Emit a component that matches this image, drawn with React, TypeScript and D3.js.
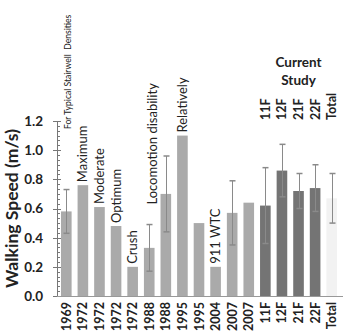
import React, { useEffect, useRef } from 'react';
import * as d3 from 'd3';

// walking speed studies, one bar each
const categories = ['1969', '1972', '1972', '1972', '1972', '1988', '1988', '1995', '1995', '2004', '2007', '2007', '11F', '12F', '21F', '22F', 'Total'];
const speeds = [0.58, 0.76, 0.61, 0.48, 0.20, 0.33, 0.70, 1.10, 0.50, 0.20, 0.57, 0.64, 0.62, 0.86, 0.72, 0.74, 0.67];
const errors = [0.15, 0, 0, 0, 0, 0.16, 0.26, 0, 0, 0, 0.22, 0, 0.26, 0.18, 0.12, 0.16, 0.17];
const groups = ['past', 'past', 'past', 'past', 'past', 'past', 'past', 'past', 'past', 'past', 'past', 'past', 'study', 'study', 'study', 'study', 'total'];
const notes = ['For Typical Stairwell  Densities', 'Maximum', 'Moderate', 'Optimum', 'Crush', 'Locomotion disability', '', 'Relatively', '', '911 WTC', '', '', '', '', '', '', ''];
const yTicks = [0, 0.2, 0.4, 0.6, 0.8, 1.0, 1.2];
const studyTitle = ['Current', 'Study'];

const App = () => {
  const svgRef = useRef(null);

  useEffect(() => {
    const width = 343;
    const height = 332;
    const margin = { top: 121, bottom: 36, left: 57 };
    const font = 'Lato, "Open Sans", sans-serif';

    const svg = d3.select(svgRef.current);
    svg.selectAll('*').remove();

    const idx = categories.map((_, i) => i);
    const x = d3.scaleBand()
      .domain(idx)
      .range([58, 340])
      .paddingInner(0.36)
      .paddingOuter(0.18);

    const y = d3.scaleLinear()
      .domain([0, 1.2])
      .range([height - margin.bottom, margin.top]);

    const colors = { past: '#aaaaaa', study: '#747474', total: '#f2f2f2' };

    // bars
    svg.append('g')
      .selectAll('rect')
      .data(idx)
      .enter()
      .append('rect')
      .attr('x', i => x(i))
      .attr('y', i => y(speeds[i]))
      .attr('width', x.bandwidth())
      .attr('height', i => y(0) - y(speeds[i]))
      .attr('fill', i => colors[groups[i]]);

    // error bars
    const withErr = idx.filter(i => errors[i] > 0);
    const eb = svg.append('g')
      .attr('stroke', '#8a8a8a')
      .attr('stroke-width', 1);
    withErr.forEach(i => {
      const cx = Math.round(x(i) + x.bandwidth() / 2) + 0.5;
      const lo = y(speeds[i] - errors[i]);
      const hi = y(speeds[i] + errors[i]);
      eb.append('line').attr('x1', cx).attr('x2', cx).attr('y1', lo).attr('y2', hi);
      eb.append('line').attr('x1', cx - 3).attr('x2', cx + 3).attr('y1', hi).attr('y2', hi).attr('stroke-width', 1.5);
      eb.append('line').attr('x1', cx - 3).attr('x2', cx + 3).attr('y1', lo).attr('y2', lo).attr('stroke-width', 1.5);
    });

    // y axis with minor ticks
    const axisG = svg.append('g').attr('stroke', '#777');
    axisG.append('line')
      .attr('x1', margin.left + 0.5).attr('x2', margin.left + 0.5)
      .attr('y1', y(1.2)).attr('y2', y(0));
    const minor = d3.range(0, 36).map(k => k * 0.2 / 6).filter(v => v <= 1.2);
    axisG.selectAll('.minor')
      .data(minor)
      .enter()
      .append('line')
      .attr('x1', margin.left).attr('x2', margin.left + 3)
      .attr('y1', v => Math.round(y(v)) + 0.5).attr('y2', v => Math.round(y(v)) + 0.5);
    axisG.selectAll('.major')
      .data(yTicks)
      .enter()
      .append('line')
      .attr('x1', margin.left - 4).attr('x2', margin.left + 4)
      .attr('y1', v => Math.round(y(v)) + 0.5).attr('y2', v => Math.round(y(v)) + 0.5);

    // x axis baseline
    svg.append('line')
      .attr('x1', margin.left).attr('x2', width)
      .attr('y1', Math.round(y(0)) + 0.5).attr('y2', Math.round(y(0)) + 0.5)
      .attr('stroke', '#999');

    svg.append('g')
      .selectAll('text')
      .data(yTicks)
      .enter()
      .append('text')
      .attr('x', 43)
      .attr('y', v => y(v))
      .attr('dy', '0.36em')
      .attr('text-anchor', 'end')
      .attr('font-family', font)
      .attr('font-weight', 'bold')
      .attr('font-size', 13.5)
      .attr('fill', '#222')
      .text(v => v.toFixed(1));

    svg.append('text')
      .attr('transform', `translate(18,${(y(0) + y(1.2)) / 2}) rotate(-90)`)
      .attr('text-anchor', 'middle')
      .attr('font-family', font)
      .attr('font-weight', 'bold')
      .attr('font-size', 17.5)
      .attr('fill', '#222')
      .text('Walking Speed (m/s)');

    // category labels under the axis
    svg.append('g')
      .selectAll('text')
      .data(idx)
      .enter()
      .append('text')
      .attr('transform', i => `translate(${x(i) + x.bandwidth() / 2 + 4.5},${y(0) + 6}) rotate(-90)`)
      .attr('text-anchor', 'end')
      .attr('font-family', font)
      .attr('font-weight', 'bold')
      .attr('font-size', 12.5)
      .attr('fill', '#222')
      .text(i => categories[i]);

    // notes over the bars
    const noteX = (i) => {
      if (i === 5) return x(i) + x.bandwidth() / 2 + 8;
      return x(i) + x.bandwidth() / 2 + 4.5;
    };
    const noteY = (i) => {
      if (i === 0) return y(1.2) + 8;
      if (i === 5) return y(speeds[i] + errors[i]) - 20;
      return y(speeds[i] + errors[i]) - 3;
    };
    svg.append('g')
      .selectAll('text')
      .data(idx.filter(i => notes[i]))
      .enter()
      .append('text')
      .attr('transform', i => `translate(${noteX(i)},${noteY(i)}) rotate(-90)`)
      .attr('font-family', font)
      .attr('font-size', i => (i === 0 ? 8.6 : 13))
      .attr('fill', '#222')
      .style('white-space', 'pre')
      .text(i => notes[i]);

    // current study labels
    const studyIdx = idx.filter(i => groups[i] !== 'past');
    svg.append('g')
      .selectAll('text')
      .data(studyIdx)
      .enter()
      .append('text')
      .attr('transform', i => `translate(${x(i) + x.bandwidth() / 2 + 4.5},${120}) rotate(-90)`)
      .attr('font-family', font)
      .attr('font-weight', 'bold')
      .attr('font-size', 12.5)
      .attr('fill', '#222')
      .text(i => categories[i]);

    const cx = (x(12) + x(16) + x.bandwidth()) / 2;
    svg.append('g')
      .selectAll('text')
      .data(studyTitle)
      .enter()
      .append('text')
      .attr('x', cx)
      .attr('y', (d, k) => 67 + k * 18)
      .attr('text-anchor', 'middle')
      .attr('font-family', font)
      .attr('font-weight', 'bold')
      .attr('font-size', 13.5)
      .attr('fill', '#222')
      .text(d => d);
  }, []);

  return (
    <svg
      ref={svgRef}
      width={343}
      height={332}
      style={{ position: 'absolute', left: 0, top: 0, background: '#fff' }}
    />
  );
};

export default App;
